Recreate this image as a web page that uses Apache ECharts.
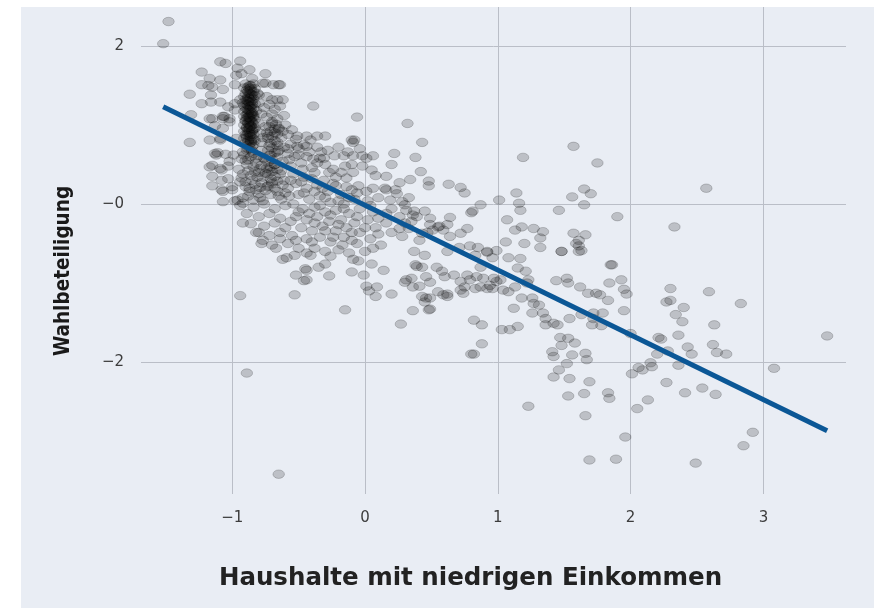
<!DOCTYPE html>
<html>
<head>
<meta charset="utf-8">
<script src="https://cdn.jsdelivr.net/npm/echarts@6/dist/echarts.min.js"></script>
<style>
html,body{margin:0;padding:0;background:#ffffff;overflow:hidden;}
#chart{position:absolute;left:21px;top:7px;width:853px;height:601px;background:#e9edf4;}
</style>
</head>
<body>
<div id="chart"></div>
<script>
// ---- axis ticks ----
const xTickValues = [-1, 0, 1, 2, 3];
const xTickLabels = ['\u22121', '0', '1', '2', '3'];
const yTickValues = [-2, 0, 2];
const yTickLabels = ['\u22122', '\u22120', '2'];
const xTitle = 'Haushalte mit niedrigen Einkommen';
const yTitle = 'Wahlbeteiligung';

// ---- regression line (x, y) ----
const lineX = [-1.52, 3.48];
const lineY = [1.23, -2.87];

// ---- data points [Haushalte mit niedrigen Einkommen, Wahlbeteiligung] ----
const pointsOutliersLeft = [
  [-1.48, 2.31], [-1.52, 2.03], [-0.89, -2.14], [-0.65, -3.42], [-0.94, -1.16], [-0.53, -1.15], [-0.15, -1.34]
];
const pointsUpperLeft = [
  [-1.09, 1.80], [-1.05, 1.78], [-0.94, 1.81], [-1.23, 1.67], [-1.17, 1.59], [-1.09, 1.57], [-0.96, 1.72],
  [-0.87, 1.70], [-0.75, 1.65], [-0.97, 1.63], [-1.23, 1.51], [-1.15, 1.48], [-1.07, 1.45], [-1.32, 1.39],
  [-1.16, 1.38], [-1.16, 1.29], [-1.09, 1.29], [-1.23, 1.27], [-1.03, 1.23], [-0.77, 1.53], [-0.69, 1.51],
  [-0.64, 1.51], [-0.70, 1.32], [-0.66, 1.32], [-0.62, 1.32], [-0.80, 1.38], [-0.39, 1.24], [-0.06, 1.10],
  [-0.94, 1.32], [-0.98, 1.19], [-1.31, 1.13], [-1.17, 1.08], [-1.07, 1.08], [-1.02, 1.08], [-1.13, 0.99],
  [-1.07, 0.96], [-1.32, 0.78], [-1.17, 0.81], [-1.09, 0.81], [-1.13, 0.64], [-1.05, 0.63], [-1.17, 0.47],
  [-1.09, 0.45], [-1.15, 0.35], [-1.08, 0.30], [-1.07, 0.16], [-1.00, 0.18], [-1.07, 0.03], [-0.96, 0.05],
  [-0.92, 0.01], [-1.18, 1.50], [-1.06, 1.11], [-1.11, 0.65], [-1.15, 0.23], [-1.03, 0.32], [-1.03, 0.48],
  [-0.93, 0.57], [-1.12, 0.62], [-1.08, 0.43], [-1.08, 0.18], [-0.98, 0.04], [-1.00, 0.22], [-0.94, 0.28],
  [-1.02, 0.54], [-0.99, 0.62], [-0.97, 0.83], [-1.02, 1.04], [-0.98, 1.27], [-0.98, 1.51], [-0.93, 1.65],
  [-0.85, 1.59], [-0.75, 1.53], [-0.65, 1.51], [-1.15, 1.08], [-1.07, 1.11], [-1.09, 0.83], [-1.15, 0.49]
];
const pointsDenseColumn = [
  [-0.87, 1.46], [-0.86, 1.44], [-0.88, 1.42], [-0.87, 1.40], [-0.85, 1.38], [-0.88, 1.36], [-0.86, 1.35],
  [-0.87, 1.33], [-0.89, 1.31], [-0.86, 1.30], [-0.87, 1.28], [-0.85, 1.26], [-0.88, 1.25], [-0.87, 1.23],
  [-0.86, 1.21], [-0.89, 1.20], [-0.87, 1.18], [-0.85, 1.16], [-0.88, 1.15], [-0.86, 1.13], [-0.87, 1.11],
  [-0.89, 1.09], [-0.86, 1.08], [-0.87, 1.06], [-0.85, 1.04], [-0.88, 1.02], [-0.87, 1.00], [-0.86, 0.98],
  [-0.89, 0.96], [-0.87, 0.94], [-0.85, 0.92], [-0.88, 0.90], [-0.86, 0.88], [-0.87, 0.86], [-0.89, 0.84],
  [-0.86, 0.82], [-0.88, 0.79], [-0.87, 0.76], [-0.85, 0.73], [-0.88, 0.70], [-0.86, 1.50], [-0.88, 1.48],
  [-0.84, 1.10], [-0.90, 1.05], [-0.84, 0.95], [-0.90, 0.88], [-0.83, 0.80], [-0.91, 1.25],
  [-0.90, 1.52], [-0.84, 1.52], [-0.87, 1.50], [-0.91, 1.47], [-0.83, 1.46], [-0.89, 1.44], [-0.84, 1.42],
  [-0.90, 1.40], [-0.86, 1.39], [-0.83, 1.37], [-0.91, 1.36], [-0.88, 1.34], [-0.84, 1.33], [-0.90, 1.32],
  [-0.85, 1.29], [-0.92, 1.28], [-0.83, 1.27], [-0.89, 1.26], [-0.86, 1.24], [-0.90, 1.22], [-0.84, 1.21],
  [-0.88, 1.19], [-0.82, 1.18], [-0.91, 1.17], [-0.86, 1.16], [-0.89, 1.13], [-0.84, 1.12], [-0.91, 1.11],
  [-0.87, 1.09], [-0.83, 1.07], [-0.90, 1.06], [-0.86, 1.05], [-0.88, 1.03], [-0.84, 1.01], [-0.91, 1.00],
  [-0.86, 0.99], [-0.89, 0.97], [-0.83, 0.96], [-0.88, 0.94], [-0.85, 0.93], [-0.91, 0.92], [-0.87, 0.90],
  [-0.84, 0.88], [-0.89, 0.87], [-0.86, 0.85], [-0.91, 0.83], [-0.84, 0.82], [-0.88, 0.81], [-0.86, 0.78],
  [-0.90, 0.77], [-0.84, 0.75], [-0.87, 0.72], [-0.89, 0.68], [-0.85, 0.67], [-0.86, 1.47], [-0.88, 1.30],
  [-0.85, 1.14], [-0.87, 0.97], [-0.86, 0.80], [-0.88, 1.10]
];
const pointsSecondColumn = [
  [-0.70, 1.04], [-0.67, 1.01], [-0.72, 0.98], [-0.68, 0.95], [-0.71, 0.92], [-0.66, 0.89], [-0.70, 0.86],
  [-0.73, 0.83], [-0.68, 0.80], [-0.71, 0.77], [-0.66, 0.74], [-0.70, 0.71], [-0.73, 0.68], [-0.68, 0.65],
  [-0.71, 0.62], [-0.66, 0.59], [-0.70, 0.56], [-0.73, 0.53], [-0.68, 0.50], [-0.71, 0.47], [-0.66, 0.44],
  [-0.70, 0.41], [-0.73, 0.38], [-0.68, 0.35], [-0.71, 0.32], [-0.66, 0.29], [-0.70, 0.26], [-0.73, 0.23],
  [-0.68, 0.20], [-0.65, 0.95], [-0.74, 0.90], [-0.65, 0.68], [-0.74, 0.45]
];
const pointsRightOfColumn = [
  [-0.80, 1.28], [-0.76, 1.22], [-0.72, 1.26], [-0.68, 1.20], [-0.64, 1.24], [-0.78, 1.14], [-0.74, 1.10],
  [-0.70, 1.14], [-0.66, 1.08], [-0.61, 1.12], [-0.80, 1.02], [-0.75, 0.98], [-0.70, 1.02], [-0.65, 0.96],
  [-0.60, 1.00], [-0.55, 0.94], [-0.79, 0.90], [-0.73, 0.86], [-0.68, 0.90], [-0.63, 0.84], [-0.58, 0.88],
  [-0.52, 0.82], [-0.78, 0.78], [-0.72, 0.74], [-0.66, 0.78], [-0.61, 0.72], [-0.56, 0.76], [-0.50, 0.70],
  [-0.46, 0.75], [-0.81, 1.40], [-0.74, 1.36], [-0.77, 0.84], [-0.62, 0.92], [-0.58, 0.64], [-0.53, 0.60]
];
const pointsBelowColumn = [
  [-0.92, 0.66], [-0.84, 0.64], [-0.78, 0.68], [-0.72, 0.62], [-0.66, 0.66], [-0.90, 0.55], [-0.82, 0.52],
  [-0.75, 0.56], [-0.68, 0.50], [-0.62, 0.54], [-0.95, 0.44], [-0.88, 0.42], [-0.80, 0.40], [-0.72, 0.44],
  [-0.64, 0.38], [-0.93, 0.33], [-0.85, 0.30], [-0.77, 0.34], [-0.70, 0.28], [-0.61, 0.30], [-0.90, 0.22],
  [-0.82, 0.18], [-0.74, 0.22], [-0.66, 0.16], [-0.58, 0.20], [-0.88, 0.10], [-0.79, 0.08], [-0.71, 0.12],
  [-0.63, 0.06], [-0.94, -0.02], [-0.84, -0.04], [-0.76, 0.00], [-0.68, -0.06], [-0.60, -0.02], [-0.89, -0.12],
  [-0.80, -0.16], [-0.72, -0.12], [-0.64, -0.18], [-0.86, -0.25], [-0.76, -0.28], [-0.68, -0.24], [-0.60, -0.30],
  [-0.82, -0.36], [-0.72, -0.40], [-0.64, -0.44], [-0.78, -0.50], [-0.67, -0.56], [-0.58, -0.50],
  [-0.92, -0.24], [-0.80, -0.36], [-0.77, -0.46], [-0.70, -0.52], [-0.64, -0.36], [-0.59, -0.68],
  [-0.91, 0.62], [-0.86, 0.60], [-0.80, 0.61], [-0.76, 0.58], [-0.89, 0.50], [-0.84, 0.47], [-0.78, 0.49],
  [-0.92, 0.38], [-0.86, 0.36], [-0.81, 0.34], [-0.75, 0.39], [-0.90, 0.28], [-0.83, 0.25], [-0.78, 0.27],
  [-0.87, 0.16], [-0.80, 0.13], [-0.75, 0.17], [-0.92, 0.08], [-0.84, 0.05], [-0.77, 0.04], [-0.82, 0.58],
  [-0.88, 0.56], [-0.79, 0.45], [-0.83, 0.41], [-0.87, 0.20], [-0.79, 0.21], [-0.63, 0.42], [-0.62, 0.24],
  [-0.65, 0.10], [-0.60, 0.14]
];
const pointsCentre = [
  [-0.51, 0.86], [-0.44, 0.86], [-0.36, 0.86], [-0.30, 0.86], [-0.10, 0.81], [-0.08, 0.81], [-0.23, 0.61],
  [-0.16, 0.61], [-0.09, 0.61], [-0.02, 0.61], [0.06, 0.61], [-0.33, 0.66], [-0.34, 0.58], [-0.51, 0.73],
  [-0.44, 0.73], [-0.09, 0.78], [-0.41, 0.81], [-0.31, 0.58], [-0.39, 0.57], [-0.44, 0.60], [0.01, 0.58],
  [-0.09, 0.40], [0.05, 0.43], [0.16, 0.35], [-0.22, 0.34], [-0.14, 0.33], [-0.22, 0.23], [-0.05, 0.23],
  [0.01, 0.16], [0.16, 0.18],
  [-0.56, 0.48], [-0.48, 0.52], [-0.40, 0.46], [-0.30, 0.50], [-0.24, 0.44], [-0.15, 0.48], [-0.54, 0.38],
  [-0.46, 0.34], [-0.38, 0.40], [-0.31, 0.30], [-0.52, 0.26], [-0.44, 0.20], [-0.36, 0.24], [-0.28, 0.16],
  [-0.18, 0.12], [-0.10, 0.18], [-0.50, 0.12], [-0.42, 0.06], [-0.34, 0.10], [-0.26, 0.02], [-0.16, 0.00],
  [-0.08, 0.06], [0.02, 0.04], [-0.54, 0.00], [-0.47, -0.06], [-0.38, -0.04], [-0.30, -0.10], [-0.22, -0.08],
  [-0.12, -0.12], [-0.04, -0.06], [0.06, -0.10], [-0.52, -0.16], [-0.44, -0.20], [-0.36, -0.16], [-0.27, -0.22],
  [-0.18, -0.20], [-0.08, -0.24], [0.02, -0.20], [-0.48, -0.30], [-0.40, -0.34], [-0.32, -0.28], [-0.22, -0.34],
  [-0.14, -0.30], [-0.04, -0.36], [0.08, -0.30], [-0.55, -0.40], [-0.44, -0.44], [-0.34, -0.42], [-0.26, -0.48],
  [-0.16, -0.42], [-0.06, -0.50], [0.04, -0.44], [0.10, -0.38], [-0.50, -0.56], [-0.38, -0.56], [-0.30, -0.60],
  [-0.20, -0.58], [-0.12, -0.62], [0.00, -0.60], [0.12, -0.52],
  [-0.44, -0.96], [-0.45, -0.82], [-0.41, -0.65], [-0.35, -0.80], [-0.17, -0.52], [0.09, -1.05],
  [-0.58, 0.70], [-0.50, 0.62], [-0.42, 0.66], [-0.36, 0.72], [-0.28, 0.68], [-0.20, 0.72], [-0.13, 0.66],
  [-0.04, 0.70], [-0.57, 0.56], [-0.47, 0.44], [-0.36, 0.52], [-0.27, 0.40], [-0.18, 0.40], [-0.10, 0.50],
  [-0.02, 0.48], [0.08, 0.36], [-0.56, 0.30], [-0.48, 0.28], [-0.40, 0.32], [-0.32, 0.20], [-0.24, 0.26],
  [-0.14, 0.22], [-0.06, 0.14], [0.06, 0.20], [-0.57, 0.10], [-0.46, 0.14], [-0.38, 0.16], [-0.30, 0.08],
  [-0.20, 0.04], [-0.12, 0.08], [0.04, -0.02], [0.10, 0.08], [-0.50, -0.10], [-0.42, -0.12], [-0.34, -0.02],
  [-0.26, -0.14], [-0.16, -0.06], [-0.06, -0.16], [0.10, -0.18], [-0.56, -0.22], [-0.38, -0.24], [-0.30, -0.34],
  [-0.20, -0.26], [-0.10, -0.36], [0.00, -0.30], [-0.52, -0.46], [-0.40, -0.48], [-0.24, -0.42], [-0.10, -0.46],
  [0.06, -0.56]
];
const pointsLowerCentre = [
  [-0.52, -0.90], [-0.46, -0.97], [-0.44, -0.84], [-0.27, -0.91], [-0.30, -0.76], [-0.26, -0.66], [-0.62, -0.70],
  [-0.53, -0.65], [-0.44, -0.62], [-0.10, -0.86], [-0.01, -0.90], [0.01, -1.04], [0.03, -1.10], [0.08, -1.17],
  [0.05, -0.76], [-0.09, -0.70], [-0.05, -0.72]
];
const pointsNearLine = [
  [0.32, 1.02], [0.43, 0.78], [0.22, 0.64], [0.38, 0.59], [0.20, 0.50], [0.42, 0.41], [0.34, 0.31], [0.26, 0.27],
  [0.48, 0.29], [0.48, 0.23], [0.63, 0.25], [0.72, 0.21], [0.75, 0.14], [0.87, -0.01], [0.80, -0.11], [0.64, -0.17],
  [0.72, -0.37], [0.77, -0.31], [0.15, 0.20], [0.23, 0.18], [0.19, 0.05], [0.28, 0.03], [0.31, -0.08], [0.36, -0.14],
  [0.39, -0.16], [0.30, -0.24], [0.26, -0.31], [0.49, -0.18], [0.55, -0.29], [0.51, -0.33], [0.59, -0.33],
  [0.64, -0.41], [0.43, -0.37], [0.16, -0.12],
  [0.24, 0.13], [0.33, 0.08], [0.30, -0.01], [0.20, -0.06], [0.37, -0.09], [0.45, -0.09], [0.56, -0.28],
  [0.62, -0.26], [0.49, -0.26], [0.35, -0.22], [0.26, -0.16], [0.16, -0.24], [0.20, -0.36], [0.33, -0.31],
  [0.28, -0.41], [0.41, -0.46], [0.47, -0.36], [0.37, -0.60], [0.45, -0.65], [0.62, -0.60], [0.71, -0.55],
  [0.79, -0.53], [0.85, -0.55], [0.83, -0.65], [0.92, -0.60], [0.96, -0.68], [0.81, -0.09],
  [0.87, -0.80], [0.58, -0.85], [0.54, -0.80], [0.43, -0.80], [0.62, -1.14], [0.72, -1.09], [0.83, -1.07],
  [0.96, -1.07], [1.13, -1.05], [1.21, -0.85], [1.08, -0.68], [0.49, -1.19]
];
const pointsMiddleLow = [
  [0.14, -0.84], [0.20, -1.14], [0.27, -1.52], [0.36, -1.35], [0.45, -1.24], [0.48, -1.34], [0.49, -1.33],
  [0.43, -1.17], [0.46, -1.19], [0.59, -1.15], [0.55, -1.11], [0.62, -1.17], [0.30, -0.99], [0.36, -1.05],
  [0.41, -1.04], [0.49, -0.99], [0.35, -0.94], [0.46, -0.92], [0.31, -0.96], [0.38, -0.77], [0.39, -0.79],
  [0.60, -0.92], [0.67, -0.90], [0.72, -0.98], [0.75, -1.05], [0.74, -1.13], [0.79, -0.96], [0.77, -0.90],
  [0.82, -1.47], [0.88, -1.53], [0.88, -1.77], [0.82, -1.90], [0.80, -1.90],
  [0.87, -1.05], [0.92, -1.07], [0.94, -1.03], [0.99, -0.98], [1.02, -0.96], [0.97, -0.94], [0.89, -0.94],
  [0.84, -0.92], [1.04, -1.09], [1.08, -1.11], [1.03, -1.59], [1.09, -1.59], [1.15, -1.55], [1.12, -1.32],
  [1.17, -0.69], [1.15, -0.81], [1.23, -0.96], [1.22, -1.00]
];
const pointsRight = [
  [1.19, 0.59], [1.57, 0.73], [1.75, 0.52], [1.01, 0.05], [1.14, 0.14], [1.16, 0.01], [1.17, -0.08],
  [1.07, -0.20], [1.13, -0.33], [1.18, -0.29], [1.27, -0.31], [1.34, -0.35], [1.32, -0.43], [1.20, -0.50],
  [1.46, -0.08], [1.56, 0.09], [1.65, 0.19], [1.70, 0.13], [1.65, -0.01], [1.90, -0.16], [1.57, -0.37],
  [1.66, -0.39], [1.59, -0.50], [2.57, 0.20], [2.33, -0.29], [1.61, -0.46], [1.61, -0.53], [1.63, -0.59],
  [1.48, -0.60], [1.32, -0.55], [1.06, -0.48], [0.99, -0.59], [0.92, -0.61], [1.86, -0.77],
  [1.18, -1.19], [1.26, -1.19], [1.27, -1.26], [1.31, -1.28], [1.26, -1.38], [1.34, -1.38], [1.36, -1.45],
  [1.42, -1.51], [1.36, -1.53], [1.45, -1.53], [1.54, -1.45], [1.63, -1.40], [1.72, -1.38], [1.71, -1.53],
  [1.78, -1.54], [1.72, -1.45], [1.79, -1.38], [1.23, -2.56],
  [1.44, -0.97], [1.52, -0.94], [1.53, -1.00], [1.62, -1.05], [1.68, -1.13], [1.74, -1.13], [1.77, -1.15],
  [1.83, -1.22], [1.84, -1.00], [1.85, -0.77], [1.48, -0.60], [1.61, -0.60],
  [1.47, -1.69], [1.53, -1.70], [1.48, -1.79], [1.58, -1.76], [1.41, -1.87], [1.42, -1.93], [1.56, -1.91],
  [1.66, -1.89], [1.67, -1.97], [1.52, -2.02], [1.46, -2.10], [1.42, -2.19], [1.54, -2.21], [1.69, -2.25],
  [1.53, -2.43], [1.65, -2.40], [1.83, -2.39], [1.84, -2.46], [1.66, -2.68], [1.69, -3.24], [1.89, -3.23]
];
const pointsFarRight = [
  [2.30, -1.07], [2.59, -1.11], [2.83, -1.26], [2.27, -1.24], [2.30, -1.22], [2.40, -1.31], [2.34, -1.40],
  [2.39, -1.49], [2.63, -1.53], [2.36, -1.66], [2.21, -1.69], [2.23, -1.71], [2.43, -1.81], [2.46, -1.90],
  [2.62, -1.78], [2.65, -1.88], [2.72, -1.90], [2.20, -1.90], [2.28, -1.86], [2.15, -2.01], [2.16, -2.06],
  [2.09, -2.10], [2.06, -2.07], [2.01, -2.15], [2.36, -2.04], [2.27, -2.26], [2.41, -2.39], [2.54, -2.33],
  [2.64, -2.41], [2.13, -2.48], [2.05, -2.59], [1.96, -2.95], [2.49, -3.28], [2.92, -2.89], [2.85, -3.06],
  [3.08, -2.08], [3.48, -1.67], [1.93, -0.96], [1.95, -1.08], [1.97, -1.14], [1.95, -1.35], [2.00, -1.64]
];

const allPoints = [].concat(
  pointsOutliersLeft, pointsUpperLeft, pointsDenseColumn, pointsSecondColumn, pointsRightOfColumn,
  pointsBelowColumn, pointsCentre, pointsLowerCentre, pointsNearLine, pointsMiddleLow, pointsRight, pointsFarRight
);
const regressionData = lineX.map((x, i) => [x, lineY[i]]);

const chart = echarts.init(document.getElementById('chart'), null, {renderer: 'canvas'});
const gridColor = '#babec7';
chart.setOption({
  animation: false,
  backgroundColor: '#e9edf4',
  grid: {left: 120, right: 28, top: 0, bottom: 114, containLabel: false},
  xAxis: {
    type: 'value',
    min: -1.687,
    max: 3.622,
    name: xTitle,
    nameLocation: 'middle',
    nameGap: 72,
    nameTextStyle: {
      fontFamily: 'DejaVu Sans', fontWeight: 'bold', fontSize: 24.5, color: '#222222',
      padding: [0, 46, 0, 0]
    },
    axisLine: {show: false},
    axisTick: {show: false, customValues: xTickValues},
    axisLabel: {
      customValues: xTickValues,
      margin: 17,
      fontFamily: 'DejaVu Sans', fontSize: 15, color: '#3c3c3c',
      formatter: v => { const i = xTickValues.indexOf(Math.round(v)); return i >= 0 ? xTickLabels[i] : ''; }
    },
    splitLine: {show: true, lineStyle: {color: gridColor, width: 1}}
  },
  yAxis: {
    type: 'value',
    min: -3.671,
    max: 2.494,
    name: yTitle,
    nameLocation: 'middle',
    nameGap: 67,
    nameRotate: 90,
    nameTextStyle: {
      fontFamily: "'Liberation Sans Narrow', 'DejaVu Sans Condensed', 'Liberation Sans', sans-serif",
      fontWeight: 'bold', fontSize: 20.5, color: '#1a1a1a',
      padding: [0, 41, 0, 0]
    },
    axisLine: {show: false},
    axisTick: {show: false, customValues: yTickValues},
    axisLabel: {
      customValues: yTickValues,
      margin: 17,
      fontFamily: 'DejaVu Sans', fontSize: 15, color: '#3c3c3c',
      formatter: v => { const i = yTickValues.indexOf(Math.round(v)); return i >= 0 ? yTickLabels[i] : ''; }
    },
    splitLine: {show: true, lineStyle: {color: gridColor, width: 1}}
  },
  series: [
    {
      type: 'scatter',
      data: allPoints,
      symbol: 'circle',
      symbolSize: [11.5, 8.5],
      itemStyle: {color: 'rgba(15,15,15,0.25)', borderColor: 'rgba(0,0,0,0.28)', borderWidth: 0.8},
      emphasis: {disabled: true},
      z: 2
    },
    {
      type: 'line',
      data: regressionData,
      showSymbol: false,
      symbol: 'none',
      lineStyle: {color: '#0b5796', width: 5, cap: 'butt'},
      emphasis: {disabled: true},
      z: 3
    }
  ]
});
</script>
</body>
</html>
